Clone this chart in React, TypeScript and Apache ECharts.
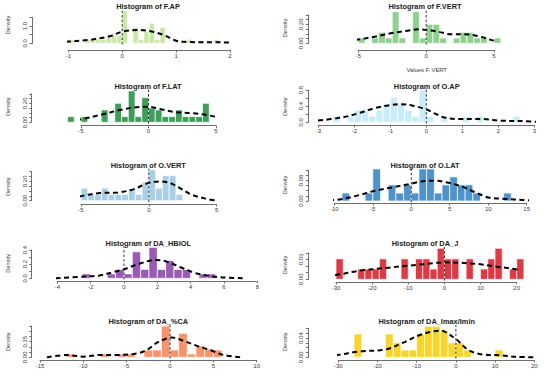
import React, { useEffect, useRef } from 'react';
import * as echarts from 'echarts';

// ---------------- data ----------------
const titles = ['F.AP', 'F.VERT', 'F.LAT', 'O.AP', 'O.VERT', 'O.LAT', 'DA_HBIOL', 'DA_J', 'DA_%CA', 'DA_Imax/Imin'];
const barColors = ['#c9e8a6', '#8fd08f', '#3f9d5c', '#c8ecf9', '#a9cfe6', '#4f92cc', '#9a5bb5', '#dc3a45', '#f7946c', '#f9d42c'];

const xTickMin = [-1, -5, -5, -3, -5, -10, -4, -30, -15, -30];
const xTickMax = [2, 5, 5, 3, 5, 15, 8, 20, 10, 20];
const xTickStep = [1, 5, 5, 1, 5, 5, 2, 10, 5, 10];
const yTickMax = [1.5, 0.3, 0.3, 0.8, 0.3, 0.12, 0.4, 0.04, 0.3, 0.06];
const yTickStep = [0.5, 0.05, 0.05, 0.2, 0.05, 0.02, 0.1, 0.01, 0.05, 0.01];
const yTickLabels = [[0, 1], [0, 0.2], [0, 0.2], [0, 0.4, 0.8], [0, 0.2], [0, 0.08], [0, 0.2, 0.4], [0, 0.03], [0, 0.15], [0, 0.04]];
const yLabelDigits = [1, 2, 2, 1, 2, 2, 1, 2, 2, 2];

const binStart = [-1, -5, -6, -2.6, -5, -9, -2.5, -30, -12, -26];
const binWidth = [0.1, 0.5, 0.5, 0.2, 0.5, 1, 0.5, 2, 1, 2];

const fapDensity = [0.23, 0, 0, 0.23, 0.23, 0.23, 0.23, 0.35, 0.47, 0.47, 1.86, 0, 0.93, 0.23, 0.7, 1.16, 0.23, 0.93, 0, 0, 0, 0, 0.23, 0, 0, 0, 0, 0.23];
const fvertDensity = [0.056, 0, 0.056, 0.116, 0.056, 0.333, 0.056, 0, 0.333, 0.056, 0.2, 0.2, 0.056, 0, 0.056, 0.116, 0.116, 0.056, 0.056, 0, 0.056];
const flatDensity = [0.06, 0, 0.06, 0, 0, 0.13, 0, 0.2, 0.06, 0.33, 0.06, 0.26, 0.15, 0.13, 0.06, 0.06, 0.13, 0.06, 0.06, 0.06, 0.2];
const oapDensity = [0.15, 0, 0.15, 0.3, 0.3, 0.15, 0.3, 0.45, 0.62, 0.45, 0.3, 0.15, 0.8, 0.15, 0, 0.15, 0, 0, 0.15, 0, 0.15, 0, 0, 0, 0, 0.15];
const overtDensity = [0.13, 0.065, 0.065, 0.13, 0.065, 0.065, 0.065, 0.12, 0.065, 0.19, 0.32, 0.13, 0.26, 0.26, 0.065];
const olatDensity = [0.031, 0, 0, 0.031, 0.125, 0, 0.063, 0.031, 0.063, 0.031, 0.125, 0.125, 0.031, 0.063, 0.094, 0.063, 0.063, 0.031, 0, 0, 0, 0.031];
const hbiolDensity = [0.0625, 0, 0, 0.0625, 0.125, 0.0625, 0.375, 0.125, 0.4375, 0.125, 0.25, 0.125, 0.125, 0, 0.0625, 0.0625];
const daJDensity = [0.031, 0, 0, 0.0156, 0.0156, 0.0156, 0.031, 0, 0, 0.031, 0, 0.031, 0.031, 0.0156, 0.047, 0.031, 0.031, 0, 0.031, 0, 0.0156, 0.031, 0.047, 0, 0.0156, 0.031];
const caDensity = [0.032, 0, 0, 0, 0.032, 0, 0.032, 0.032, 0, 0.07, 0.07, 0.3, 0.07, 0.23, 0.032, 0.11, 0.08, 0.07];
const imaxDensity = [0.048, 0, 0, 0, 0.048, 0.03, 0.015, 0.015, 0.048, 0.064, 0.064, 0.056, 0.03, 0.03, 0.015, 0, 0, 0, 0.015];

const fapCurve = [[-1.52, 0], [-1.3, 0.03], [-1.0, 0.1], [-0.6, 0.2], [-0.22, 0.42], [0, 0.67], [0.28, 0.77], [0.5, 0.71], [0.77, 0.48], [1.0, 0.15], [1.2, 0.08], [1.5, 0.06], [1.7, 0.06], [2.0, 0.04], [2.32, 0]];
const fvertCurve = [[-8.35, 0], [-6.5, 0.01], [-5, 0.04], [-3.8, 0.07], [-2.6, 0.105], [-1.35, 0.133], [-0.6, 0.147], [0, 0.14], [0.86, 0.123], [1.84, 0.095], [2.8, 0.095], [3.8, 0.077], [5, 0.028], [6, 0.007], [8.6, 0]];
const flatCurve = [[-8.5, 0], [-6, 0.015], [-4.9, 0.035], [-3.6, 0.077], [-2.1, 0.13], [-1.1, 0.155], [-0.1, 0.165], [0.86, 0.14], [1.85, 0.11], [3.3, 0.095], [4.3, 0.077], [5.8, 0.035], [6.8, 0.014], [7.9, 0]];
const oapCurve = [[-3.24, 0.02], [-2.36, 0.116], [-1.9, 0.22], [-1.44, 0.35], [-0.97, 0.43], [-0.7, 0.45], [-0.32, 0.4], [0, 0.32], [0.23, 0.22], [0.5, 0.12], [0.97, 0.08], [1.53, 0.08], [2.08, 0.04], [2.64, 0.03], [3.29, 0]];
const overtCurve = [[-7.6, 0], [-6, 0.014], [-4.9, 0.05], [-3.6, 0.08], [-2.3, 0.085], [-1.1, 0.12], [-0.1, 0.18], [0.86, 0.2], [1.6, 0.18], [2.3, 0.13], [3.1, 0.065], [4.1, 0.024], [5, 0]];
const olatCurve = [[-12.9, 0], [-10, 0.004], [-8.6, 0.01], [-6.8, 0.023], [-4.7, 0.04], [-2.5, 0.053], [-0.35, 0.065], [1.8, 0.078], [3.1, 0.079], [4.85, 0.071], [6.6, 0.056], [8.3, 0.034], [10, 0.014], [12.2, 0.008], [14.4, 0.004], [16.5, 0]];
const hbiolCurve = [[-4.1, 0], [-2.4, 0.024], [-1.45, 0.04], [-0.54, 0.094], [0, 0.127], [0.96, 0.21], [1.96, 0.26], [2.56, 0.236], [3.4, 0.156], [4.2, 0.08], [5, 0.038], [5.8, 0.014], [7.2, 0]];
const daJCurve = [[-37.3, 0.0025], [-30, 0.0066], [-24, 0.0126], [-17.5, 0.0166], [-10, 0.0207], [-5.5, 0.023], [0, 0.0257], [4.6, 0.025], [10, 0.0227], [14.7, 0.019], [20, 0.015], [24, 0.01], [27.2, 0.0055]];
const caCurve = [[-14.2, 0], [-11.9, 0.022], [-10, 0.006], [-8.1, 0.022], [-6.2, 0.022], [-3.8, 0.038], [-2.7, 0.07], [-1.5, 0.14], [-0.4, 0.18], [0.2, 0.19], [1.5, 0.16], [3.1, 0.11], [4.6, 0.07], [6.2, 0.022], [8.1, 0]];
const imaxCurve = [[-37.2, 0], [-30, 0.005], [-24.8, 0.012], [-18, 0.016], [-13.8, 0.029], [-9.5, 0.045], [-6.1, 0.053], [-3.6, 0.055], [-1.9, 0.048], [0.25, 0.036], [3.2, 0.015], [6.6, 0.006], [11.7, 0.004], [15.1, 0.001], [22.8, 0]];

const densities = [fapDensity, fvertDensity, flatDensity, oapDensity, overtDensity, olatDensity, hbiolDensity, daJDensity, caDensity, imaxDensity];
const curves = [fapCurve, fvertCurve, flatCurve, oapCurve, overtCurve, olatCurve, hbiolCurve, daJCurve, caCurve, imaxCurve];

// ---------------- layout (pixels) ----------------
const layout = [
  { x0: 68.3, x1: 230, base: 43.3, top: 17.35, axisX: 32, axisY: 50, titleX: 148, titleY: 6, densX: 8, densY: 25 },
  { x0: 358.3, x1: 494, base: 43.3, top: 14.8, axisX: 308.3, axisY: 50, titleX: 425, titleY: 6, densX: 285, densY: 28 },
  { x0: 81, x1: 216, base: 122.3, top: 93.8, axisX: 31.7, axisY: 125.7, titleX: 148, titleY: 86, densX: 8, densY: 106.7 },
  { x0: 318.3, x1: 534.3, base: 122.3, top: 90, axisX: 308.3, axisY: 125, titleX: 426.7, titleY: 86, densX: 285, densY: 106.7 },
  { x0: 81, x1: 216.7, base: 200.7, top: 171.7, axisX: 31.7, axisY: 204, titleX: 148.3, titleY: 165, densX: 8, densY: 186.7 },
  { x0: 334.3, x1: 526.7, base: 201, top: 170.2, axisX: 308.3, axisY: 203, titleX: 425, titleY: 165, densX: 285, densY: 185 },
  { x0: 57.3, x1: 257.3, base: 278.3, top: 250, axisX: 31.7, axisY: 281, titleX: 148.3, titleY: 243.3, densX: 8, densY: 263.3 },
  { x0: 336, x1: 516.7, base: 279.3, top: 252.9, axisX: 308.3, axisY: 282, titleX: 425, titleY: 243.3, densX: 285, densY: 265 },
  { x0: 40, x1: 256.7, base: 357.3, top: 326, axisX: 31.7, axisY: 360, titleX: 148.3, titleY: 321.7, densX: 8, densY: 341.7 },
  { x0: 338.3, x1: 534.3, base: 357.3, top: 328.2, axisX: 308.3, axisY: 360, titleX: 426.7, titleY: 321.7, densX: 285, densY: 341.7 },
];

const FONT = 'Liberation Sans, Arial, sans-serif';
const AXIS = '#6e6e6e';
const LABEL = '#3a3a3a';

function buildOption() {
  const grid: any[] = [];
  const xAxis: any[] = [];
  const yAxis: any[] = [];
  const series: any[] = [];
  const graphic: any[] = [];

  titles.forEach((name, i) => {
    const l = layout[i];
    grid.push({ left: l.x0, top: l.top, width: l.x1 - l.x0, height: l.base - l.top, containLabel: false, outerBoundsMode: 'none' });
    xAxis.push({
      type: 'value', gridIndex: i, min: xTickMin[i], max: xTickMax[i], interval: xTickStep[i],
      offset: l.axisY - l.base,
      axisLine: { show: true, onZero: false, lineStyle: { color: AXIS, width: 1 } },
      axisTick: { show: true, length: 2.5, lineStyle: { color: AXIS, width: 1 } },
      axisLabel: { fontSize: 6, margin: 2.5, color: LABEL, fontFamily: FONT, showMinLabel: true, showMaxLabel: true, hideOverlap: false },
      splitLine: { show: false },
    });
    const shown = yTickLabels[i];
    const dig = yLabelDigits[i];
    yAxis.push({
      type: 'value', gridIndex: i, min: 0, max: yTickMax[i], interval: yTickStep[i],
      offset: l.x0 - l.axisX,
      axisLine: { show: true, onZero: false, lineStyle: { color: AXIS, width: 1 } },
      axisTick: { show: true, length: 2.5, lineStyle: { color: AXIS, width: 1 } },
      axisLabel: {
        fontSize: 6, margin: 4, color: LABEL, fontFamily: FONT, rotate: 90, showMinLabel: true, showMaxLabel: true, hideOverlap: false,
        formatter: (v: number) => (shown.some((s) => Math.abs(s - v) < 1e-9) ? v.toFixed(dig) : ''),
      },
      splitLine: { show: false },
    });

    const dens = densities[i];
    const bins = dens.map((d, k) => [binStart[i] + k * binWidth[i], binStart[i] + (k + 1) * binWidth[i], d]);
    const color = barColors[i];
    series.push({
      type: 'custom', xAxisIndex: i, yAxisIndex: i, clip: false,
      data: bins,
      encode: { x: [0, 1], y: 2 },
      renderItem: (params: any, api: any) => {
        const h = api.value(2);
        if (!h) return null;
        const p0 = api.coord([api.value(0), 0]);
        const p1 = api.coord([api.value(1), h]);
        return {
          type: 'rect',
          shape: { x: p0[0], y: p1[1], width: p1[0] - p0[0], height: p0[1] - p1[1] },
          style: { fill: color, stroke: '#ffffff', lineWidth: 0.7 },
        };
      },
    });
    series.push({
      type: 'line', xAxisIndex: i, yAxisIndex: i, clip: false, smooth: 0.35, symbol: 'none',
      data: curves[i],
      lineStyle: { color: '#000', width: 2, type: [5, 3.5] },
      z: 5,
    });
    const maxD = Math.max(...dens);
    series.push({
      type: 'line', xAxisIndex: i, yAxisIndex: i, clip: false, symbol: 'none',
      data: [[0, -0.04 * maxD], [0, 1.04 * maxD]],
      lineStyle: { color: '#333', width: 1, type: [2.5, 2] },
      z: 6,
    });

    graphic.push({
      type: 'text', x: l.titleX, y: l.titleY,
      style: { text: 'Histogram of ' + name, font: 'bold 7.4px ' + FONT, fill: '#222', textAlign: 'center', textVerticalAlign: 'middle' },
    });
    graphic.push({
      type: 'text', x: l.densX, y: l.densY, rotation: Math.PI / 2,
      style: { text: 'Density', font: '5.6px ' + FONT, fill: LABEL, textAlign: 'center', textVerticalAlign: 'middle' },
    });
  });

  graphic.push({
    type: 'text', x: 426.7, y: 70,
    style: { text: 'Values F. VERT', font: '5.8px ' + FONT, fill: LABEL, textAlign: 'center', textVerticalAlign: 'middle' },
  });

  return { animation: false, backgroundColor: '#ffffff', grid, xAxis, yAxis, series, graphic };
}

export default function App() {
  const ref = useRef<HTMLDivElement>(null);
  useEffect(() => {
    if (!ref.current) return;
    const chart = echarts.init(ref.current, undefined, { renderer: 'svg' });
    chart.setOption(buildOption() as any);
    return () => chart.dispose();
  }, []);
  return <div ref={ref} style={{ position: 'fixed', left: 0, top: 0, width: 550, height: 376, background: '#fff' }} />;
}
